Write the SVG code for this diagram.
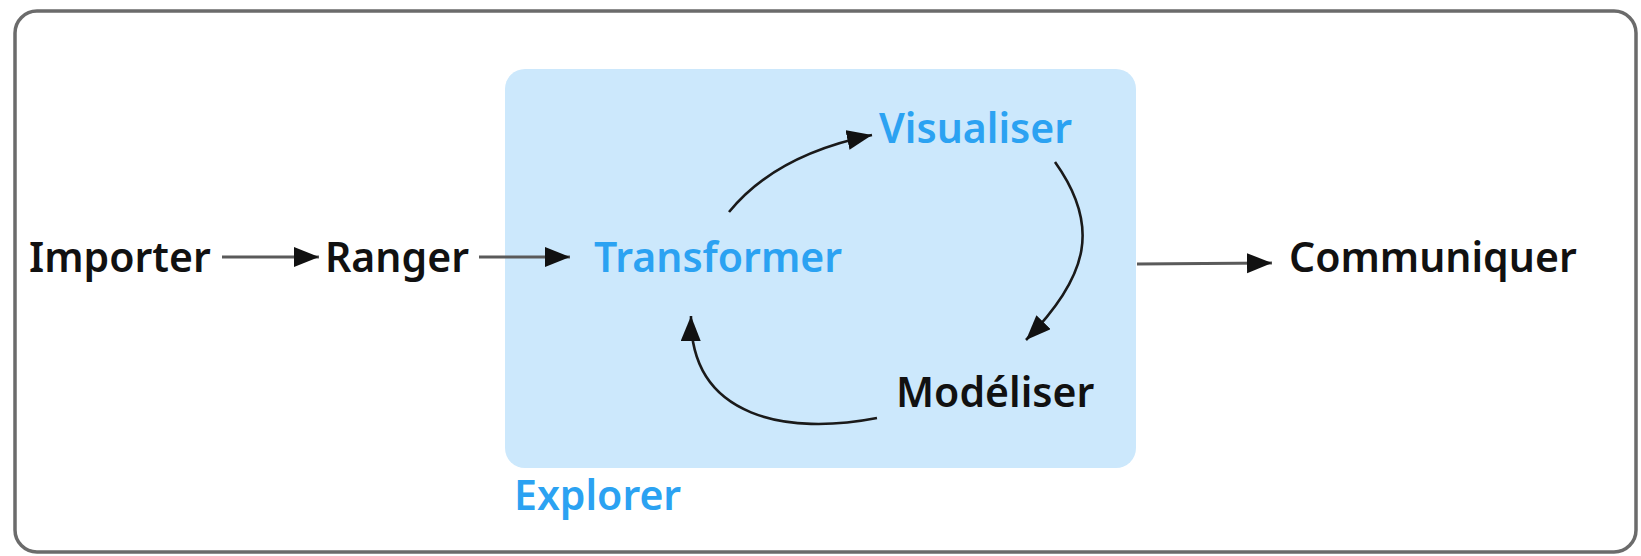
<svg xmlns="http://www.w3.org/2000/svg" width="1641" height="556" viewBox="0 0 1641 556">
<defs>
<style>
.lbl{font-family:"Noto Sans","Open Sans","Liberation Sans",sans-serif;font-weight:600;font-size:41px;fill:#111}
.blue{fill:#2ba2f2}
.st{fill:none;stroke:#5a5a5a;stroke-width:3.2}
.cv{fill:none;stroke:#1a1a1a;stroke-width:2.6}
</style>
<marker id="ah" markerUnits="userSpaceOnUse" markerWidth="28" markerHeight="22" refX="25" refY="10" orient="auto">
<path d="M0,0 L25,10 L0,20 Z" fill="#111"/>
</marker>
</defs>
<rect width="1641" height="556" fill="#fff"/>
<g id="frame"><rect x="15" y="11" width="1621" height="541" rx="22" fill="#fff" stroke="#6b6b6b" stroke-width="3.5"/></g>
<g id="explorer"><rect x="505" y="69" width="631" height="399" rx="20" fill="#cce8fc"/>
<text class="lbl blue" x="514" y="510">Explorer</text></g>
<g id="connectors">
<path class="st" d="M222 257 L319 257" marker-end="url(#ah)"/>
<path class="st" d="M479 257 L570 257" marker-end="url(#ah)"/>
<path class="st" d="M1137 264 L1272 263" marker-end="url(#ah)"/>
<path class="cv" d="M729 212 Q775 155 872 135" marker-end="url(#ah)"/>
<path class="cv" d="M1055 162 C1100 225 1090 275 1026 340" marker-end="url(#ah)"/>
<path class="cv" d="M877 418 C790 435 690 420 691 316" marker-end="url(#ah)"/>
</g>
<g id="importer"><text class="lbl" x="29" y="272">Importer</text></g>
<g id="ranger"><text class="lbl" x="325" y="272">Ranger</text></g>
<g id="transformer"><text class="lbl blue" x="594" y="272">Transformer</text></g>
<g id="visualiser"><text class="lbl blue" x="879" y="143">Visualiser</text></g>
<g id="modeliser"><text class="lbl" x="896" y="407">Modéliser</text></g>
<g id="communiquer"><text class="lbl" x="1289" y="272">Communiquer</text></g>
</svg>
